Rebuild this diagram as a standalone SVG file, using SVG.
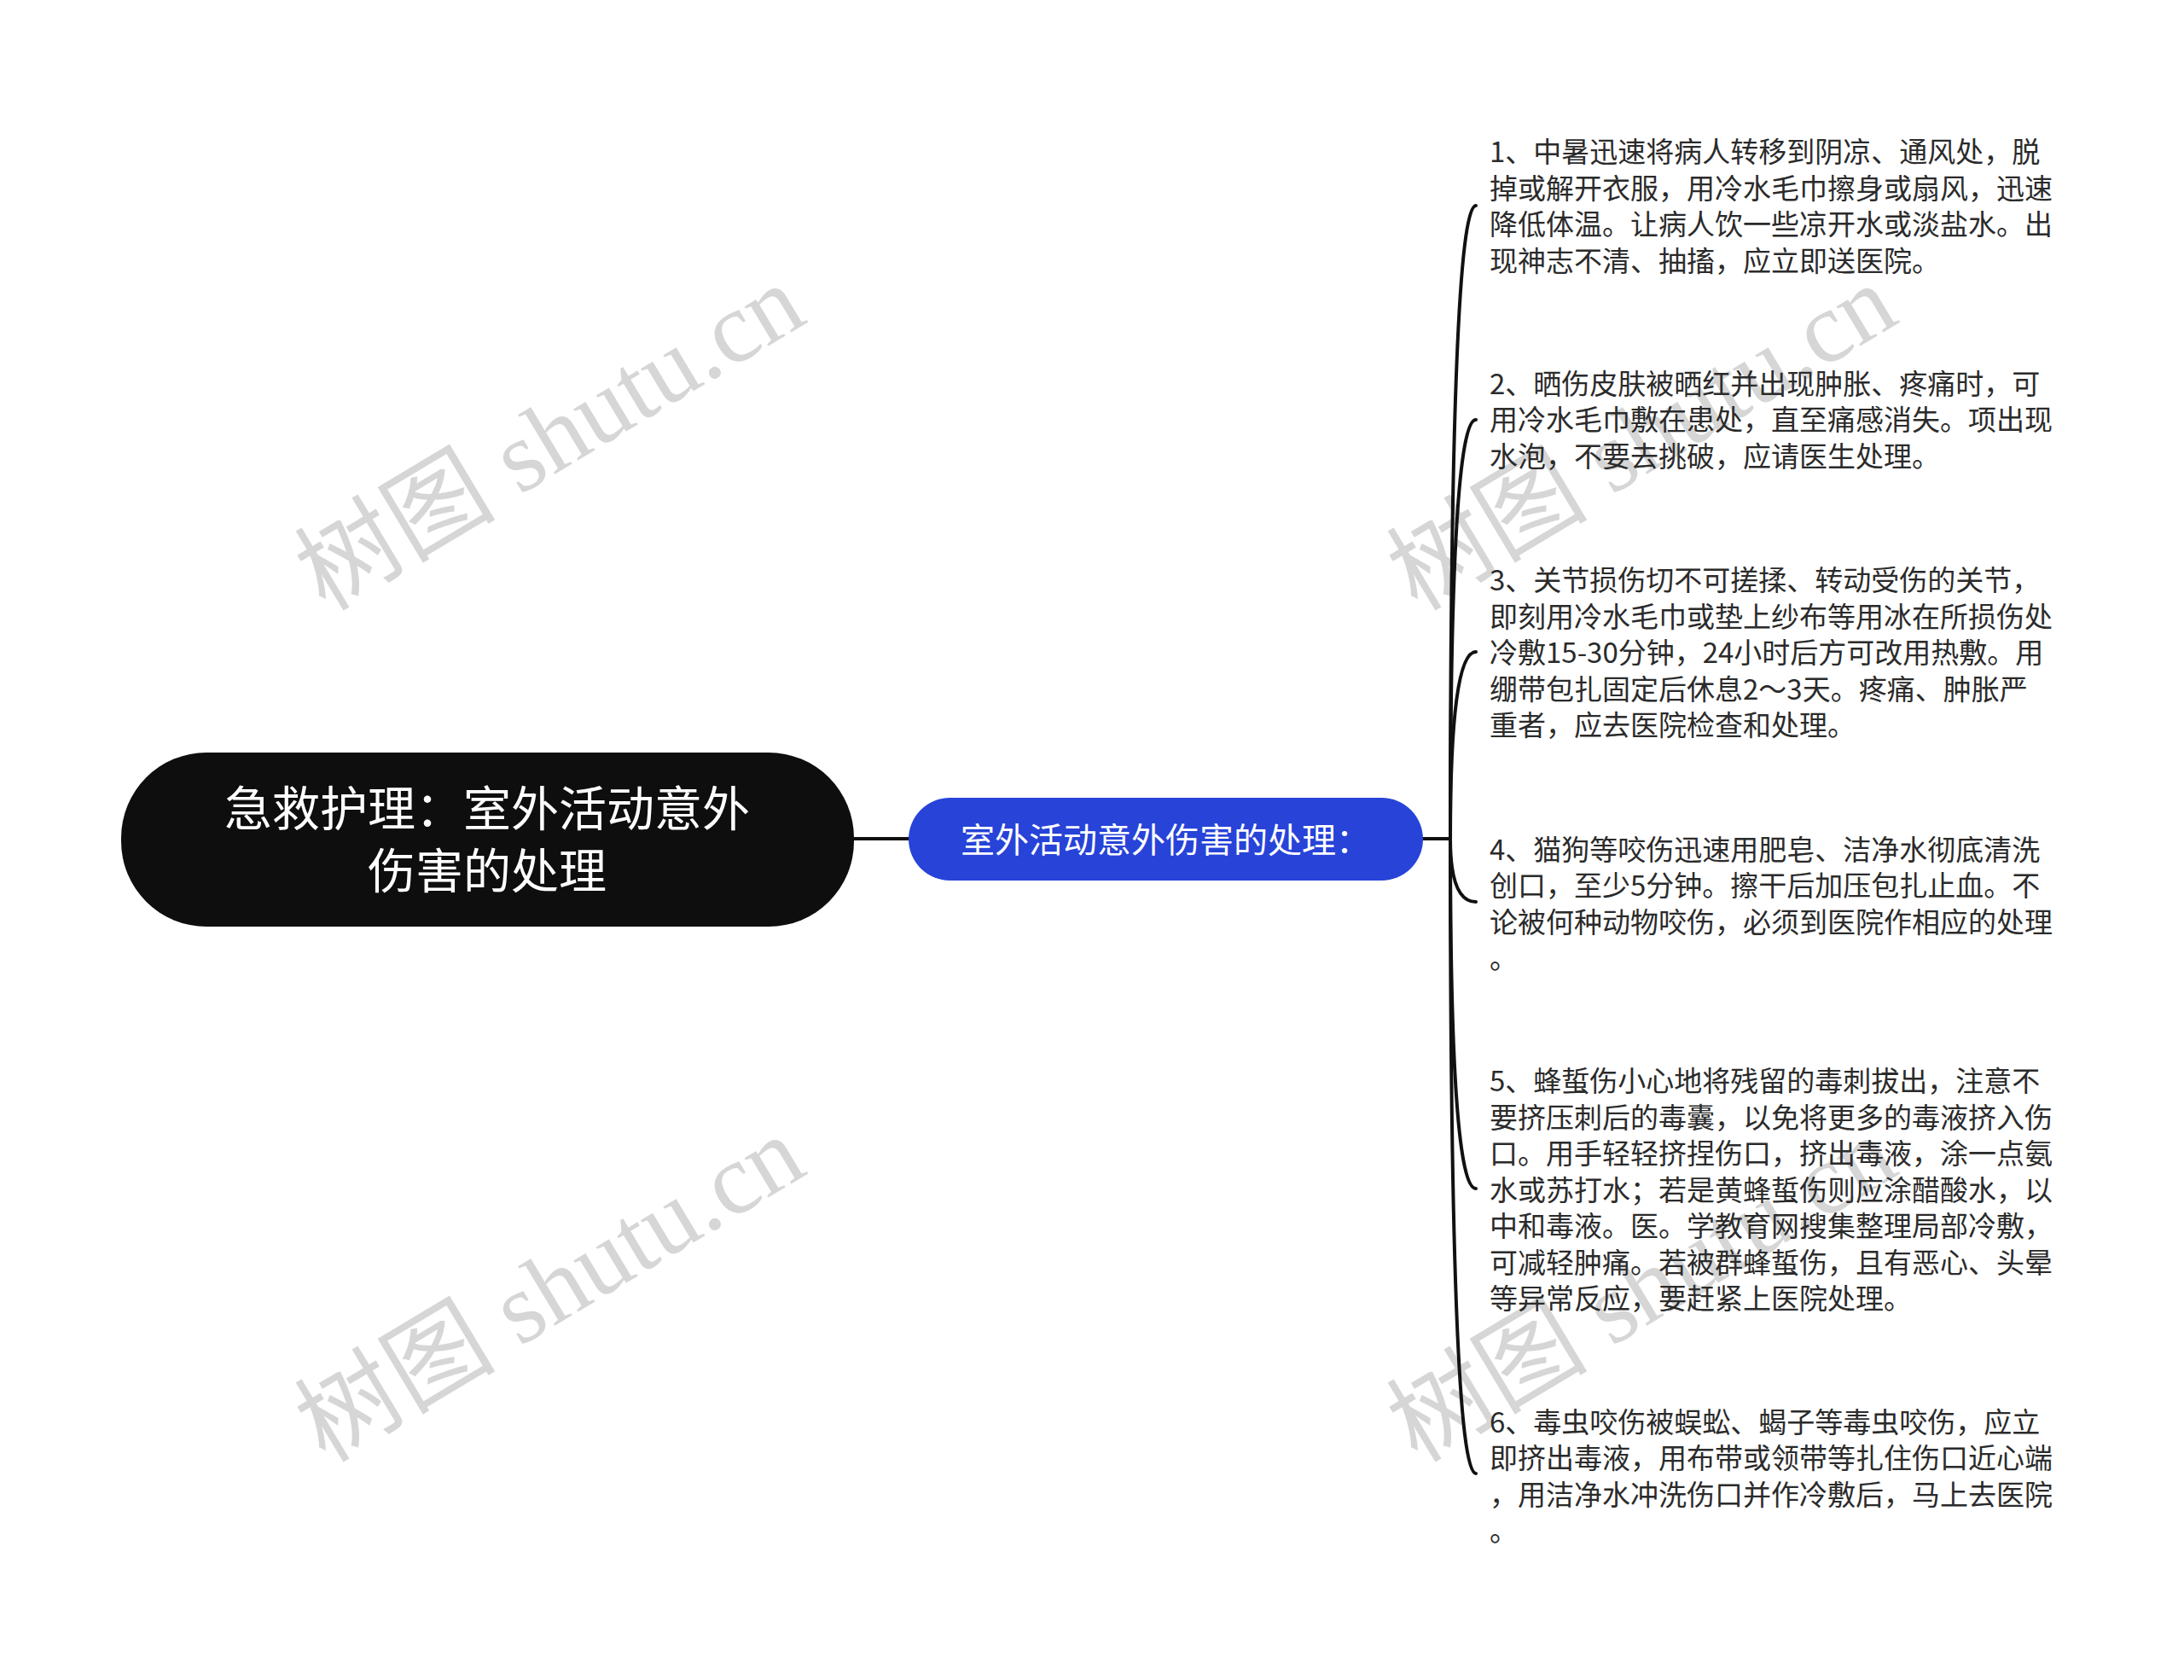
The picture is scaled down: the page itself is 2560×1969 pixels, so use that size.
<svg xmlns="http://www.w3.org/2000/svg" width="2560" height="1969" viewBox="0 0 2560 1969">
<style>
.wm{font-family:"Liberation Serif","Noto Sans CJK SC",serif;font-size:118px;fill:#d6d6d6;text-anchor:middle}
.leaf{font-family:"Noto Sans CJK SC","Noto Sans",sans-serif;font-size:33px;fill:#2b2b2b}
.root-t{font-family:"Noto Sans CJK SC","Noto Sans",sans-serif;font-size:56px;fill:#ffffff;text-anchor:middle}
.sub-t{font-family:"Noto Sans CJK SC","Noto Sans",sans-serif;font-size:40px;fill:#ffffff;text-anchor:middle}
.conn{fill:none;stroke:#111111;stroke-width:4;stroke-linecap:round}
</style>
<rect width="2560" height="1969" fill="#ffffff"/>
<g id="watermarks">
<text class="wm" transform="translate(665,547) rotate(-31)">树图 shutu.cn</text>
<text class="wm" transform="translate(1945,547) rotate(-31)">树图 shutu.cn</text>
<text class="wm" transform="translate(665,1545) rotate(-31)">树图 shutu.cn</text>
<text class="wm" transform="translate(1945,1545) rotate(-31)">树图 shutu.cn</text>
</g>
<g id="connectors">
<path class="conn" d="M1001 983 L1065 983"/>
<path class="conn" d="M1668 983 L1700 983"/>
<path class="conn" d="M1700 983 Q1700 241 1730 241"/>
<path class="conn" d="M1700 983 Q1700 492 1730 492"/>
<path class="conn" d="M1700 983 Q1700 764 1730 764"/>
<path class="conn" d="M1700 983 Q1700 1057 1730 1057"/>
<path class="conn" d="M1700 983 Q1700 1393 1730 1393"/>
<path class="conn" d="M1700 983 Q1700 1727 1730 1727"/>
</g>
<g id="root">
<rect x="142" y="882" width="859" height="204" rx="100" ry="100" fill="#0e0e0e"/>
<text class="root-t" x="571" y="968">急救护理：室外活动意外</text>
<text class="root-t" x="571" y="1041">伤害的处理</text>
</g>
<g id="sub">
<rect x="1065" y="935" width="603" height="97" rx="48.5" ry="48.5" fill="#2743d8"/>
<text class="sub-t" x="1366" y="999">室外活动意外伤害的处理：</text>
</g>
<g id="leaf1">
<text class="leaf" x="1746" y="190">1、中暑迅速将病人转移到阴凉、通风处，脱</text>
<text class="leaf" x="1746" y="232.5">掉或解开衣服，用冷水毛巾擦身或扇风，迅速</text>
<text class="leaf" x="1746" y="275">降低体温。让病人饮一些凉开水或淡盐水。出</text>
<text class="leaf" x="1746" y="317.5">现神志不清、抽搐，应立即送医院。</text>
</g>
<g id="leaf2">
<text class="leaf" x="1746" y="461.5">2、晒伤皮肤被晒红并出现肿胀、疼痛时，可</text>
<text class="leaf" x="1746" y="504">用冷水毛巾敷在患处，直至痛感消失。项出现</text>
<text class="leaf" x="1746" y="546.5">水泡，不要去挑破，应请医生处理。</text>
</g>
<g id="leaf3">
<text class="leaf" x="1746" y="692">3、关节损伤切不可搓揉、转动受伤的关节，</text>
<text class="leaf" x="1746" y="734.5">即刻用冷水毛巾或垫上纱布等用冰在所损伤处</text>
<text class="leaf" x="1746" y="777">冷敷15-30分钟，24小时后方可改用热敷。用</text>
<text class="leaf" x="1746" y="819.5">绷带包扎固定后休息2～3天。疼痛、肿胀严</text>
<text class="leaf" x="1746" y="862">重者，应去医院检查和处理。</text>
</g>
<g id="leaf4">
<text class="leaf" x="1746" y="1007.5">4、猫狗等咬伤迅速用肥皂、洁净水彻底清洗</text>
<text class="leaf" x="1746" y="1050">创口，至少5分钟。擦干后加压包扎止血。不</text>
<text class="leaf" x="1746" y="1092.5">论被何种动物咬伤，必须到医院作相应的处理</text>
<text class="leaf" x="1746" y="1135">。</text>
</g>
<g id="leaf5">
<text class="leaf" x="1746" y="1279">5、蜂蜇伤小心地将残留的毒刺拔出，注意不</text>
<text class="leaf" x="1746" y="1321.5">要挤压刺后的毒囊，以免将更多的毒液挤入伤</text>
<text class="leaf" x="1746" y="1364">口。用手轻轻挤捏伤口，挤出毒液，涂一点氨</text>
<text class="leaf" x="1746" y="1406.5">水或苏打水；若是黄蜂蜇伤则应涂醋酸水，以</text>
<text class="leaf" x="1746" y="1449">中和毒液。医。学教育网搜集整理局部冷敷，</text>
<text class="leaf" x="1746" y="1491.5">可减轻肿痛。若被群蜂蜇伤，且有恶心、头晕</text>
<text class="leaf" x="1746" y="1534">等异常反应，要赶紧上医院处理。</text>
</g>
<g id="leaf6">
<text class="leaf" x="1746" y="1678.5">6、毒虫咬伤被蜈蚣、蝎子等毒虫咬伤，应立</text>
<text class="leaf" x="1746" y="1721">即挤出毒液，用布带或领带等扎住伤口近心端</text>
<text class="leaf" x="1746" y="1763.5">，用洁净水冲洗伤口并作冷敷后，马上去医院</text>
<text class="leaf" x="1746" y="1806">。</text>
</g>
</svg>
